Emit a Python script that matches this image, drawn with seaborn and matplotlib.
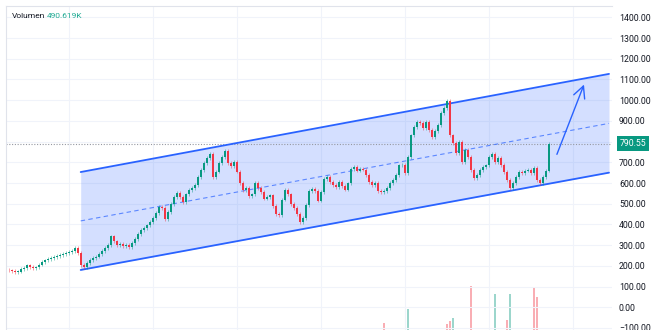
import numpy as np
import pandas as pd
import matplotlib
matplotlib.use("Agg")
import matplotlib.pyplot as plt
import seaborn as sns
from matplotlib.transforms import blended_transform_factory

# ---------------- data ----------------
closes = [178, 175, 170, 172, 185, 190, 202, 194, 190, 192,
          206, 220, 226, 233, 238, 244, 248, 253, 258, 263,
          268, 272, 288, 262, 205, 195, 214, 228, 238, 245,
          258, 272, 285, 300, 342, 318, 300, 305, 296, 300,
          292, 310, 330, 352, 373, 382, 395, 410, 431, 455,
          484, 479, 426, 460, 500, 533, 552, 533, 510, 545,
          566, 575, 590, 629, 662, 696, 720, 742, 629, 655,
          696, 726, 755, 696, 680, 701, 655, 600, 566, 576,
          535, 545, 600, 575, 555, 525, 533, 540, 490, 450,
          445, 520, 566, 545, 500, 478, 450, 410, 430, 495,
          560, 570, 560, 515, 555, 620, 630, 605, 590, 582,
          605, 585, 568, 598, 668, 678, 660, 670, 665, 640,
          605, 590, 600, 560, 555, 560, 575, 600, 614, 639,
          685, 687, 650, 726, 830, 871, 895, 890, 866, 895,
          856, 822, 850, 880, 938, 962, 995, 830, 793, 744,
          800, 700, 759, 726, 662, 623, 640, 662, 677, 685,
          726, 740, 701, 720, 687, 653, 614, 576, 600, 630,
          655, 648, 660, 662, 648, 672, 615, 600, 630, 660,
          790.55]
first_open = 180
last_price = 790.55

channel_x = [23.9, 200.0]
channel_upper = [653, 1127]
channel_lower = [180, 650]
channel_mid = [417, 888]
arrow_start = (182.3, 726)
arrow_end = (192.0, 1088)

vol_idx = [125, 133, 146, 147, 148, 154, 162, 166, 167, 175, 176]
vol_val = [22, 65, 19, 28, 37, 136, 111, 31, 111, 133, 102]
vol_up = [False, True, False, False, True, False, True, False, True, False, False]

y_ticks = list(range(-100, 1500, 100))
x_grid = [20, 48, 76, 104, 132, 160, 188]
volume_label = "Volumen"
volume_value = "490.619K"

# ---------------- style ----------------
sns.set_theme(style="white")
plt.rcParams['font.family'] = ['Roboto', 'DejaVu Sans']
UP = "#089981"
DOWN = "#f23645"
BLUE = "#2962ff"

fig = plt.figure(figsize=(6.6, 3.3), dpi=100)
fig.patch.set_facecolor("white")
ax = fig.add_axes([6 / 660, 0, 606 / 660, 324 / 330])
ax.set_xlim(-1, 201)
ax.set_ylim(-110, 1455)

# volume overlay axis
ax2 = ax.twinx()
ax2.set_ylim(0, 1000)
ax2.set_zorder(ax.get_zorder() - 1)
ax.patch.set_visible(False)
vcols = [UP if u else DOWN for u in vol_up]
ax2.bar(vol_idx, vol_val, width=0.75, color=vcols, alpha=0.4, linewidth=0)
ax2.set_yticks([])
for s in ax2.spines.values():
    s.set_visible(False)

# grid
ax.set_yticks(y_ticks)
ax.set_xticks(x_grid)
ax.set_xticklabels([])
ax.grid(True, color="#f0f3fa", lw=0.8)
ax.set_axisbelow(True)

# channel
ax.fill_between(channel_x, channel_lower, channel_upper, color=BLUE, alpha=0.2, lw=0, zorder=1)
ch = pd.DataFrame({"x": channel_x * 3,
                   "y": channel_upper + channel_lower + channel_mid,
                   "line": ["upper"] * 2 + ["lower"] * 2 + ["mid"] * 2})
sns.lineplot(data=ch[ch.line != "mid"], x="x", y="y", units="line", estimator=None,
             color=BLUE, lw=1.3, ax=ax, zorder=3)
sns.lineplot(data=ch[ch.line == "mid"], x="x", y="y", color=BLUE, lw=0.8, alpha=0.7,
             ax=ax, zorder=3, linestyle=(0, (4, 3)))

# last price dotted line
ax.axhline(last_price, color="#9598a1", ls=(0, (1, 1.5)), lw=0.8, zorder=2)

# candles
c = np.array(closes, dtype=float)
o = np.concatenate([[first_open], c[:-1]])
x = np.arange(len(c))
up = c >= o
cols = np.where(up, UP, DOWN)
lo = np.minimum(o, c)
hi = np.maximum(o, c)
ax.vlines(x, lo - 9, hi + 9, colors=cols, lw=0.6, alpha=0.55, zorder=4)
ax.bar(x, np.maximum(hi - lo, 4), bottom=lo, width=0.65, color=cols, linewidth=0, zorder=5)

# arrow
ax.annotate("", xy=arrow_end, xytext=arrow_start,
            arrowprops=dict(arrowstyle="->,head_length=0.7,head_width=0.35",
                            color=BLUE, lw=1.0), zorder=6)

# axis
ax.set_xlabel("")
ax.set_ylabel("")
ax.yaxis.tick_right()
ax.set_yticklabels([("\u2212" if v < 0 else "") + f"{abs(v):.2f}" for v in y_ticks])
ax.tick_params(axis="y", length=0, pad=5, labelsize=6.3, labelcolor="#131722")
ax.tick_params(axis="x", length=0)
for side in ["right", "bottom"]:
    ax.spines[side].set_visible(False)
for side in ["left", "top"]:
    ax.spines[side].set_color("#e0e3eb")
    ax.spines[side].set_linewidth(0.8)

# price label
tr = blended_transform_factory(ax.transAxes, ax.transData)
ax.text(1.012, last_price, f"{last_price:.2f}", transform=tr, ha="left", va="center",
        color="white", fontsize=6.3,
        bbox=dict(boxstyle="square,pad=0.3", fc=UP, ec="none"), zorder=10, clip_on=False)

# volume legend
fig.text(12 / 660, 1 - 16 / 330, volume_label, fontsize=6.0, color="#131722", va="center")
fig.text(47 / 660, 1 - 16 / 330, volume_value, fontsize=6.0, color="#22ab94", va="center")

fig.savefig("out.png", dpi=100, facecolor="white")
